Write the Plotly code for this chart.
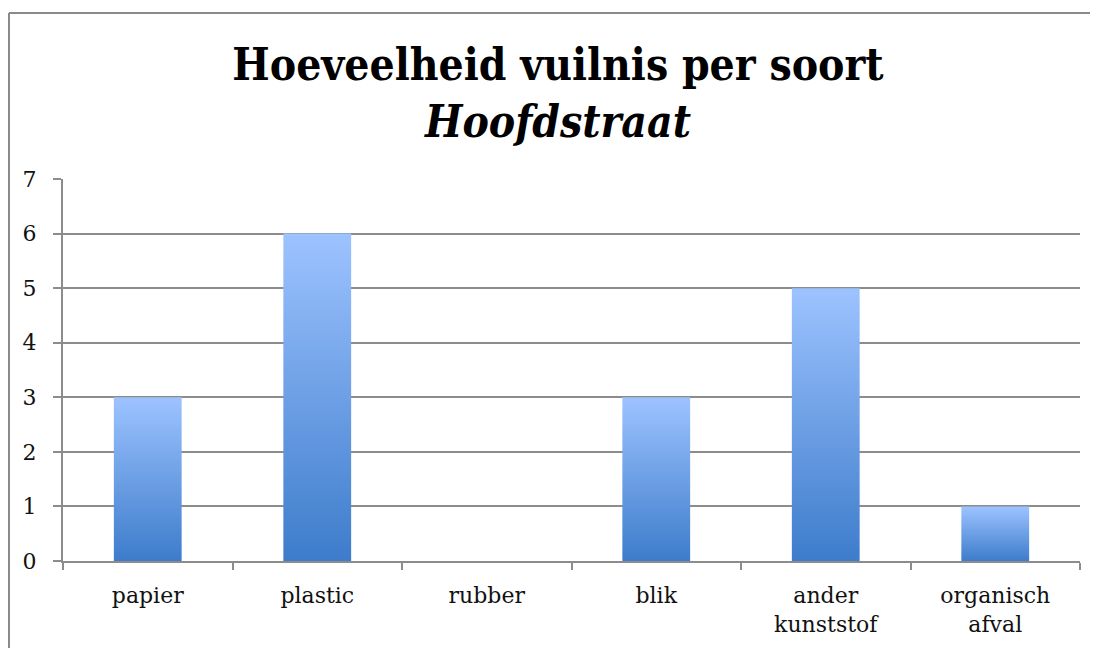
import plotly.graph_objects as go

categories = ["papier", "plastic", "rubber", "blik", "ander<br>kunststof", "organisch<br>afval"]
values = [3, 6, 0, 3, 5, 1]
y_ticks = [0, 1, 2, 3, 4, 5, 6, 7]

BAR_HALF = 0.2
TOP_COLOR = "#9DC3FF"
BOTTOM_COLOR = "#3D7CCB"
GRID = "#8c8c8c"
LABEL_FONT = dict(family="DejaVu Serif", size=22, color="#111111")

# the page places the figure 8px in from the window's top-left corner
W, H = 1090, 640
ML, MR, MT, MB = 55, 18, 171, 87
PW, PH = W - ML - MR, H - MT - MB

fig = go.Figure()

for i, v in enumerate(values):
    if v <= 0:
        continue
    xs = [i - BAR_HALF, i + BAR_HALF, i + BAR_HALF, i - BAR_HALF, i - BAR_HALF]
    ys = [0, 0, v, v, 0]
    fig.add_trace(go.Scatter(
        x=xs, y=ys, mode="lines", fill="toself",
        line=dict(width=0, color="rgba(0,0,0,0)"),
        fillgradient=dict(type="vertical",
                          colorscale=[[0, BOTTOM_COLOR], [1, TOP_COLOR]]),
        hoverinfo="skip", showlegend=False,
    ))

# outer chart border (top and left visible; right/bottom clipped)
bx0 = (1 - ML) / PW
by1 = (H - MB - 5) / PH
fig.add_shape(type="line", xref="paper", yref="paper",
              x0=bx0, x1=(W - ML) / PW, y0=by1, y1=by1,
              line=dict(color="#8a8a8a", width=2))
fig.add_shape(type="line", xref="paper", yref="paper",
              x0=bx0, x1=bx0, y0=by1, y1=(-MB) / PH,
              line=dict(color="#8a8a8a", width=2))

fig.update_layout(
    width=W, height=H,
    margin=dict(l=ML, r=MR, t=MT, b=MB, autoexpand=False),
    paper_bgcolor="white", plot_bgcolor="white",
    title=dict(
        text="<b>Hoeveelheid vuilnis per soort<br><i>Hoofdstraat</i></b>",
        font=dict(family="DejaVu Serif Condensed, DejaVu Serif", size=44, color="#000000"),
        x=550 / W, xanchor="center", xref="container",
        y=1 - 72 / H, yanchor="top", yref="container",
    ),
    xaxis=dict(
        range=[-0.5, 5.5], tickmode="array",
        tickvals=list(range(len(categories))), ticktext=categories,
        ticks="", showgrid=False, zeroline=False,
        showline=True, linecolor=GRID, linewidth=2,
        tickfont=LABEL_FONT, ticklabelstandoff=14, automargin=False,
        minor=dict(tickmode="linear", tick0=-0.5, dtick=1, ticks="outside",
                   ticklen=7, tickwidth=2, tickcolor=GRID, showgrid=False),
        fixedrange=True,
    ),
    yaxis=dict(
        range=[0, 7], tickmode="array", tickvals=y_ticks,
        ticks="outside", ticklen=8, tickwidth=2, tickcolor=GRID,
        showgrid=True, gridcolor=GRID, gridwidth=1.5,
        zeroline=False, showline=True, linecolor=GRID, linewidth=2,
        tickfont=LABEL_FONT, ticklabelstandoff=12, automargin=False,
        fixedrange=True,
    ),
)

fig.write_html("out.html", config={"displayModeBar": False})
